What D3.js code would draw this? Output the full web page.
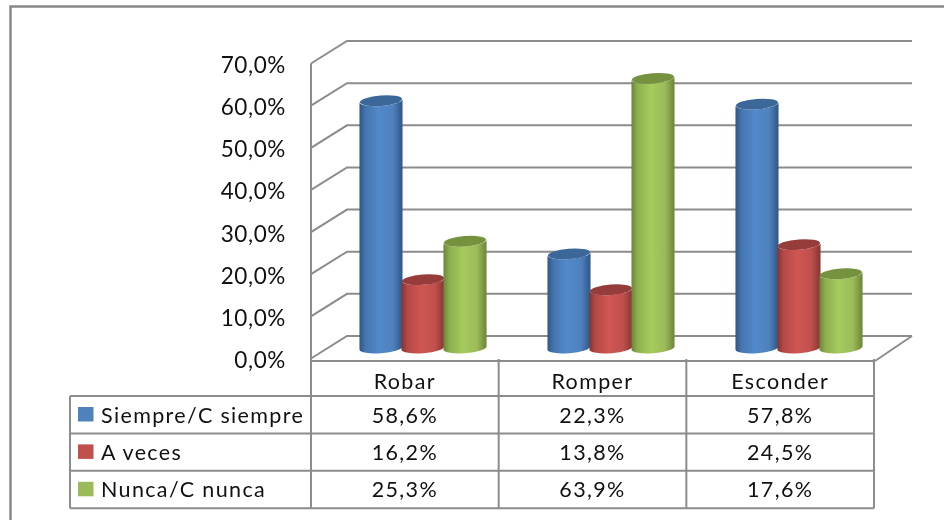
<!DOCTYPE html>
<html>
<head>
<meta charset="utf-8">
<script src="https://cdn.jsdelivr.net/npm/d3@7"></script>
<style>
  html, body { margin: 0; padding: 0; background: #fff; }
  svg { filter: blur(0.4px); }
  text { font-family: Lato, "Open Sans", sans-serif; fill: #111; }
</style>
</head>
<body>
<div id="chart"></div>
<script>
// data
const categories = ["Robar", "Romper", "Esconder"]
const seriesNames = ["Siempre/C siempre", "A veces", "Nunca/C nunca"]
const siempre = [58.6, 22.3, 57.8]
const aVeces = [16.2, 13.8, 24.5]
const nunca = [25.3, 63.9, 17.6]
const yTicks = [0, 10, 20, 30, 40, 50, 60, 70]
const baseColors = ["#4f81bd", "#c0504d", "#9bbb59"]
const edgeColors = ["#2f5685", "#853533", "#6b8439"]
const midColors = ["#5289cb", "#d05653", "#a5cb5d"]
const topColors = ["#3b6898", "#963d3b", "#76923f"]

const allSeries = [siempre, aVeces, nunca]
const width = 944, height = 520
const gridColor = "#8c8c8c"

// dimensions of the fake 3d box
const depthX = 36, depthY = 22.5
const plotLeft = 311, plotRight = 876
const tableLeft = 70, tableTop = 361, legendTop = 396, rowHeight = 37.4
const tableFont = "21.5px", tableSpacing = "1.35px"

const fmt = v => d3.format(".1f")(v).replace(".", ",") + "%"

let svg = d3.select("#chart")
  .append("svg")
    .attr("width", width)
    .attr("height", height)
    .style("display", "block")

// outer frame, runs off the picture on the right and bottom
svg.append("path")
  .attr("d", `M${width + 5},6.5H10.5V${height + 5}`)
  .attr("fill", "none")
  .attr("stroke", "#888")
  .attr("stroke-width", 2.5)

const y = d3.scaleLinear().domain([0, 70]).range([358.5, 63.5])

// gradients for the cylinders
let defs = svg.append("defs")
baseColors.forEach((c, i) => {
  let g = defs.append("linearGradient").attr("id", "cyl" + i)
  g.append("stop").attr("offset", "0%").attr("stop-color", edgeColors[i])
  g.append("stop").attr("offset", "14%").attr("stop-color", d3.interpolateRgb(edgeColors[i], midColors[i])(0.6))
  g.append("stop").attr("offset", "45%").attr("stop-color", midColors[i])
  g.append("stop").attr("offset", "78%").attr("stop-color", c)
  g.append("stop").attr("offset", "100%").attr("stop-color", edgeColors[i])
})

// back wall gridlines
let walls = svg.append("g")
  .attr("fill", "none")
  .attr("stroke", gridColor)
  .attr("stroke-width", 2)

walls.selectAll("path.grid")
  .data(yTicks)
  .join("path")
    .attr("class", "grid")
    .attr("d", d => `M${plotLeft},${y(d)}L${plotLeft + depthX},${y(d) - depthY}H${plotRight + depthX}`)

// right edge of the floor
walls.append("path")
  .attr("d", `M${plotRight - 1},${tableTop}L${plotRight + depthX},${y(0) - depthY}`)

// left axis with the labels
let axis = svg.append("g")
  .attr("transform", `translate(${plotLeft},0)`)
  .call(d3.axisLeft(y).tickValues(yTicks).tickFormat(fmt).tickSize(0).tickPadding(25))
axis.select(".domain").remove()
axis.selectAll("text")
  .attr("dy", "0.4em")
  .style("font-size", "22.5px")
  .style("letter-spacing", "0.6px")

// cylinders
const x0 = d3.scaleBand().domain(categories).range([329, 893])
const x1 = d3.scaleBand().domain(seriesNames).range([-63, 63])
const barY = d3.scaleLinear().domain([0, 70]).range([348, 52.6])
const ry = 5.2, tilt = -4.5

const topPoints = (cx, cy, rx) => {
  const a = tilt * Math.PI / 180
  return [cx - rx * Math.cos(a), cy - rx * Math.sin(a), cx + rx * Math.cos(a), cy + rx * Math.sin(a)]
}

seriesNames.forEach((name, s) => {
  let g = svg.append("g").attr("class", "series")
  categories.forEach((cat, c) => {
    const half = x1.bandwidth() / 2
    const rx = half + 0.6
    const cx = x0(cat) + x0.bandwidth() / 2 + x1(name) + half
    const top = barY(allSeries[s][c])
    const base = barY(0)
    const [lx, ly, rxx, ryy] = topPoints(cx, top, rx)
    const [blx, bly, brx, bry] = topPoints(cx, base, rx)
    g.append("path")
      .attr("d", `M${lx},${ly}L${blx},${bly}A${rx},${ry} ${tilt} 0 0 ${brx},${bry}L${rxx},${ryy}A${rx},${ry} ${tilt} 0 1 ${lx},${ly}Z`)
      .attr("fill", `url(#cyl${s})`)
    g.append("ellipse")
      .attr("rx", rx - 0.5)
      .attr("ry", ry)
      .attr("transform", `translate(${cx},${top}) rotate(${tilt})`)
      .attr("fill", topColors[s])
  })
})

// data table under the chart
const colX = d3.scaleBand().domain(categories).range([plotLeft, 874])
const rowY = d3.scaleBand().domain(seriesNames).range([legendTop, legendTop + rowHeight * 3])

let table = svg.append("g")
  .attr("fill", "none")
  .attr("stroke", gridColor)
  .attr("stroke-width", 2)

table.append("path")
  .attr("d", `M${plotLeft},${y(70)}V${rowY.range()[1]}`)
table.append("path")
  .attr("d", `M${plotLeft},${tableTop}H${colX.range()[1]}`)
table.selectAll("path.col")
  .data(categories)
  .join("path")
    .attr("class", "col")
    .attr("d", d => `M${colX(d) + colX.bandwidth()},${tableTop - 2}V${rowY.range()[1]}`)
table.append("path")
  .attr("d", `M${tableLeft},${legendTop}H${colX.range()[1]}`)
table.selectAll("path.row")
  .data(seriesNames)
  .join("path")
    .attr("class", "row")
    .attr("d", d => `M${tableLeft},${rowY(d) + rowY.bandwidth()}H${colX.range()[1]}`)
table.append("path")
  .attr("d", `M${tableLeft},${legendTop}V${rowY.range()[1]}`)

// header row
svg.selectAll("text.cat")
  .data(categories)
  .join("text")
    .attr("class", "cat")
    .attr("x", d => colX(d) + colX.bandwidth() / 2)
    .attr("y", tableTop + 28)
    .attr("text-anchor", "middle")
    .style("font-size", tableFont)
    .style("letter-spacing", tableSpacing)
    .text(d => d)

// legend keys and row names
svg.selectAll("rect.key")
  .data(seriesNames)
  .join("rect")
    .attr("class", "key")
    .attr("x", 78)
    .attr("y", d => rowY(d) + 11)
    .attr("width", 15.5)
    .attr("height", 14.5)
    .attr("fill", (d, i) => baseColors[i])

svg.selectAll("text.name")
  .data(seriesNames)
  .join("text")
    .attr("class", "name")
    .attr("x", 101)
    .attr("y", d => rowY(d) + 26.5)
    .style("font-size", tableFont)
    .style("letter-spacing", tableSpacing)
    .text(d => d)

// table values
seriesNames.forEach((name, s) => {
  svg.selectAll("text.val" + s)
    .data(allSeries[s])
    .join("text")
      .attr("class", "val" + s)
      .attr("x", (d, i) => colX(categories[i]) + colX.bandwidth() / 2)
      .attr("y", rowY(name) + 26.5)
      .attr("text-anchor", "middle")
      .style("font-size", tableFont)
      .style("letter-spacing", tableSpacing)
      .text(fmt)
})
</script>
</body>
</html>
